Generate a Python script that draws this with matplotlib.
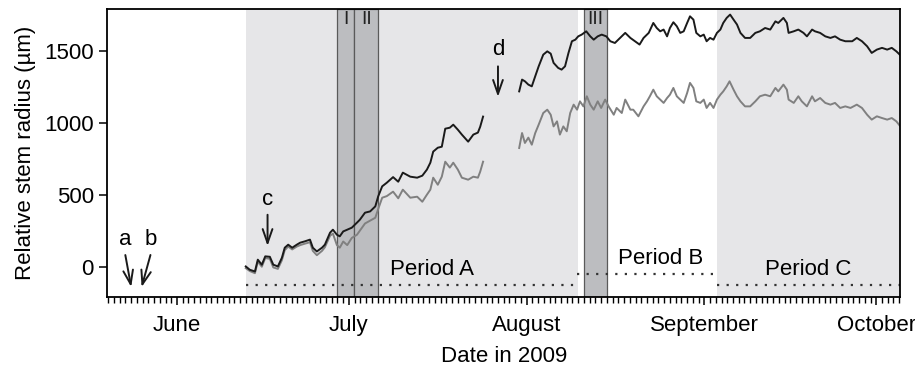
import matplotlib
matplotlib.use("Agg")
import matplotlib.pyplot as plt
import numpy as np

plt.rcParams['font.family'] = ['Liberation Sans', 'DejaVu Sans']

# day of year 2009, stem radius in micrometres
doy_a = [164.0, 164.7, 165.6, 166.1, 166.8, 167.4, 168.2, 168.8, 169.6, 170.3,
         170.8, 171.4, 172.1, 172.9, 173.5, 174.3, 175.2, 175.7, 176.4, 177.3,
         177.8, 178.7, 179.2, 179.9, 180.4, 181.0, 181.7, 182.5, 183.4, 183.9,
         184.8, 185.7, 186.6, 187.1, 187.8, 188.6, 189.7, 190.6, 191.4, 192.7,
         193.9, 194.8, 195.6, 196.2, 196.7, 197.5, 198.2, 198.8, 199.6, 200.2,
         201.0, 201.7, 202.8, 203.7, 204.5, 204.9, 205.4]
black_a = [2, -21, -33, 49, 14, 72, 69, 14, 2, 62,
           132, 153, 132, 153, 167, 176, 188, 132, 106, 132,
           153, 236, 257, 222, 211, 245, 257, 271, 306, 326,
           375, 384, 419, 488, 558, 583, 622, 590, 653, 625,
           618, 632, 674, 722, 799, 826, 833, 958, 965, 986,
           951, 917, 868, 917, 931, 972, 1042]
gray_a = [-10, -30, -45, 35, 0, 60, 55, -5, -15, 45,
          115, 140, 120, 140, 150, 160, 170, 110, 80, 110,
          135, 215, 230, 150, 132, 175, 150, 200, 222, 250,
          300, 320, 340, 400, 479, 490, 521, 475, 535, 479,
          486, 451, 500, 535, 618, 569, 625, 729, 688, 722,
          674, 618, 604, 625, 618, 660, 729]

doy_b_black = [211.7, 212.2, 212.7, 213.3, 213.9, 214.5, 215.1, 215.9, 216.6, 217.2,
               217.7, 218.5, 219.1, 219.7, 220.3, 220.9, 221.5, 222.0, 222.6, 223.4,
               224.1, 224.7, 225.4, 226.1, 226.9, 227.6, 228.4, 229.3, 230.2, 231.1,
               231.9, 232.7, 233.4, 234.3, 235.1, 235.7, 236.3, 236.9, 237.5, 238.0,
               238.6, 239.2, 239.8, 240.4, 241.0, 241.5, 242.1, 242.6, 243.3, 243.9,
               244.4, 245.0, 245.6, 246.2, 246.8, 247.3, 247.9, 248.5, 249.1, 249.7,
               250.3, 251.1, 252.0, 252.9, 253.7, 254.6, 255.5, 256.4, 256.9, 257.8,
               258.4, 258.7, 259.6, 260.4, 261.3, 261.9, 262.8, 263.3, 264.2, 265.1,
               266.0, 266.8, 267.7, 268.6, 269.8, 270.6, 271.5, 272.4, 273.2, 274.1,
               275.0, 275.9, 276.7, 277.5, 278.1]
black_b = [1217, 1299, 1287, 1264, 1252, 1322, 1391, 1472, 1495, 1479,
           1415, 1380, 1368, 1391, 1484, 1565, 1576, 1599, 1611, 1634,
           1599, 1576, 1599, 1611, 1599, 1565, 1553, 1588, 1623, 1588,
           1565, 1542, 1588, 1623, 1692, 1657, 1634, 1646, 1599, 1657,
           1697, 1669, 1623, 1634, 1692, 1738, 1715, 1623, 1599, 1611,
           1565, 1588, 1576, 1623, 1646, 1692, 1727, 1750, 1715, 1681,
           1623, 1588, 1588, 1623, 1634, 1657, 1646, 1703, 1692, 1727,
           1692, 1623, 1634, 1646, 1623, 1599, 1646, 1634, 1623, 1599,
           1588, 1599, 1576, 1565, 1565, 1588, 1565, 1530, 1484, 1507,
           1519, 1507, 1519, 1495, 1472]

doy_b_gray = [211.7, 212.2, 212.7, 213.3, 213.9, 214.5, 215.1, 215.9, 216.6, 217.2,
              217.7, 218.3, 218.8, 219.4, 220.0, 220.6, 221.2, 221.8, 222.3, 222.9,
              223.5, 224.1, 224.7, 225.4, 226.0, 226.7, 227.3, 228.2, 228.7, 229.6,
              230.2, 231.1, 231.6, 232.5, 233.4, 234.0, 234.5, 235.1, 235.7, 236.3,
              236.9, 237.5, 238.0, 238.6, 239.2, 239.8, 240.4, 241.0, 241.5, 242.1,
              242.6, 243.3, 243.9, 244.4, 245.0, 245.6, 246.2, 246.8, 247.3, 247.9,
              248.4, 249.1, 249.7, 250.3, 251.1, 252.0, 252.9, 253.7, 254.6, 255.5,
              256.4, 256.9, 257.8, 258.4, 258.7, 259.6, 260.4, 261.0, 261.9, 262.8,
              263.3, 264.2, 265.1, 266.0, 266.8, 267.7, 268.6, 269.5, 270.6, 271.5,
              272.4, 273.2, 274.1, 275.0, 275.9, 276.7, 277.5, 278.1]
gray_b = [824, 928, 859, 896, 847, 928, 986, 1067, 1090, 1055,
          974, 1009, 917, 974, 940, 1067, 1125, 1090, 1148, 1113,
          1183, 1125, 1090, 1148, 1102, 1160, 1113, 1055, 1102, 1067,
          1160, 1090, 1090, 1044, 1113, 1148, 1183, 1229, 1183, 1160,
          1137, 1171, 1194, 1241, 1183, 1160, 1137, 1206, 1276, 1241,
          1148, 1137, 1160, 1102, 1137, 1102, 1160, 1194, 1217, 1252,
          1287, 1229, 1183, 1148, 1113, 1113, 1148, 1183, 1194, 1183,
          1241, 1217, 1264, 1229, 1160, 1137, 1183, 1148, 1113, 1183,
          1148, 1171, 1137, 1125, 1137, 1102, 1113, 1102, 1125, 1102,
          1055, 1021, 1044, 1032, 1021, 1032, 1009, 979]

# shaded periods and short intervals (day of year)
period_a = (164.0, 222.0)
period_c = (246.2, 278.5)
bands = [(179.9, 182.9, 'I'), (182.9, 187.1, 'II'), (223.0, 227.0, 'III')]
month_doy = [152, 182, 213, 244, 274]
month_names = ['June', 'July', 'August', 'September', 'October']

fs = 16

fig = plt.figure(figsize=(9.15, 3.68), dpi=100)
ax = fig.add_axes([0.117, 0.193, 0.867, 0.783])

light = '#e6e6e8'
dark = '#bcbdc0'
ax.axvspan(*period_a, color=light, lw=0, zorder=0)
ax.axvspan(*period_c, color=light, lw=0, zorder=0)
for x0, x1, name in bands:
    ax.axvspan(x0, x1, facecolor=dark, edgecolor='#5a5a5a', lw=0.9, zorder=1)
    ax.text((x0 + x1) / 2, 1715, name, ha='center', va='center', fontsize=14,
            color='#222222', zorder=3)

# period markers
dot = dict(color='#333333', lw=1.6, ls=(0, (1, 3.3)), zorder=2)
ax.plot([164.0, 221.5], [-125, -125], **dot)
ax.plot([221.8, 246.2], [-50, -50], **dot)
ax.plot([246.2, 278.2], [-125, -125], **dot)
ax.text(196.5, -22, 'Period A', ha='center', va='center', fontsize=fs)
ax.text(236.3, 60, 'Period B', ha='center', va='center', fontsize=fs)
ax.text(262.1, -22, 'Period C', ha='center', va='center', fontsize=fs)

ax.plot(doy_a, gray_a, color='#808080', lw=1.4, zorder=4)
ax.plot(doy_b_gray, gray_b, color='#808080', lw=1.4, zorder=4)
ax.plot(doy_a, black_a, color='#1a1a1a', lw=1.4, zorder=5)
ax.plot(doy_b_black, black_b, color='#1a1a1a', lw=1.4, zorder=5)

arrow = dict(arrowstyle='->,head_length=1.0,head_width=0.35', color='#1a1a1a', lw=1.4)
ax.annotate('', xy=(144.1, -160), xytext=(142.9, 100), arrowprops=arrow)
ax.annotate('', xy=(145.7, -160), xytext=(147.5, 100), arrowprops=arrow)
ax.text(142.9, 190, 'a', ha='center', va='center', fontsize=fs)
ax.text(147.5, 190, 'b', ha='center', va='center', fontsize=fs)
ax.annotate('', xy=(167.8, 125), xytext=(167.8, 380), arrowprops=arrow)
ax.text(167.8, 470, 'c', ha='center', va='center', fontsize=fs)
ax.annotate('', xy=(208.0, 1160), xytext=(208.0, 1410), arrowprops=arrow)
ax.text(208.0, 1510, 'd', ha='center', va='center', fontsize=fs)

ax.set_xlim(139.8, 278.2)
ax.set_ylim(-210, 1790)
ax.set_xticks(month_doy)
ax.set_xticklabels(month_names)
ax.set_xticks(np.arange(140, 279), minor=True)
ax.set_yticks([0, 500, 1000, 1500])
ax.tick_params(axis='both', which='major', labelsize=fs, width=1.1, length=5.5, pad=4)
ax.tick_params(axis='x', which='major', length=6, pad=7)
ax.tick_params(axis='x', which='minor', width=1.0, length=4.5)
for s in ax.spines.values():
    s.set_linewidth(1.3)
    s.set_zorder(6)

ax.set_xlabel('Date in 2009', fontsize=fs, labelpad=7)
ax.set_ylabel('Relative stem radius (\u00b5m)', fontsize=fs, labelpad=6)

fig.savefig('out.png', dpi=100)
